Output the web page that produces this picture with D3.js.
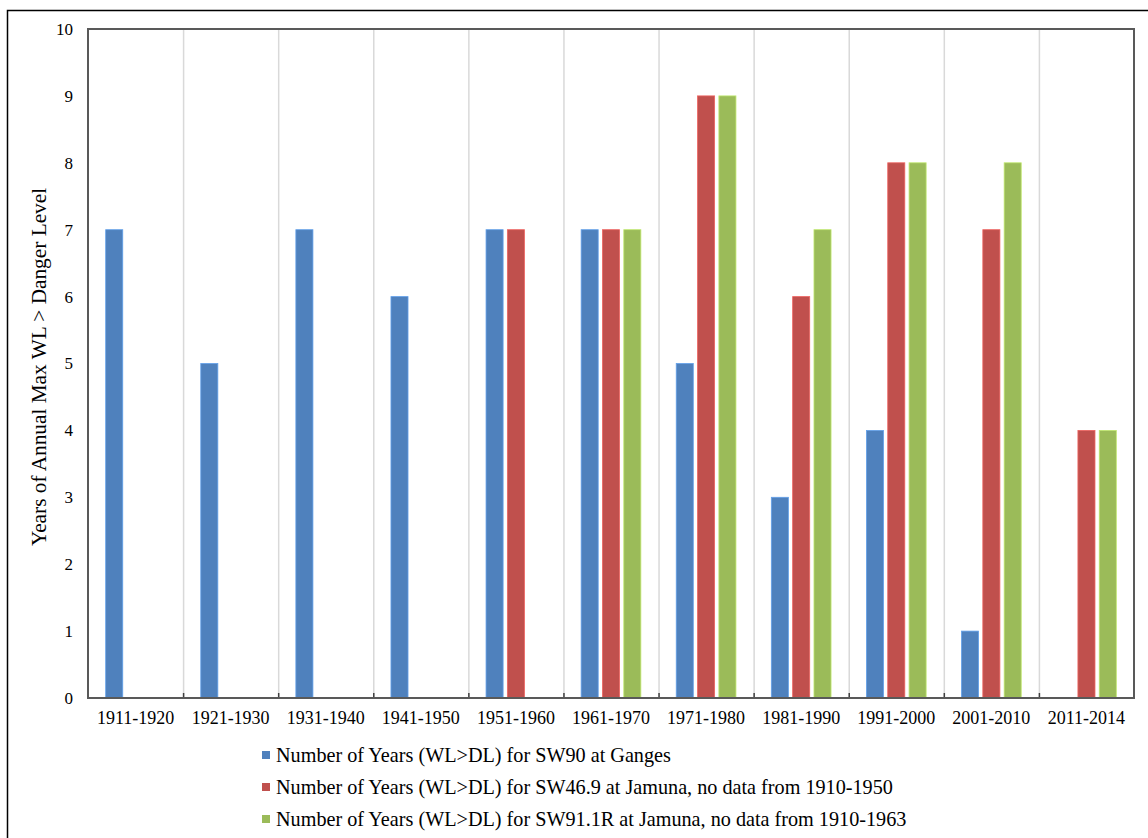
<!DOCTYPE html>
<html><head><meta charset="utf-8">
<script src="https://cdn.jsdelivr.net/npm/d3@7"></script>
<style>body{margin:0;background:#fff}svg{display:block}</style>
</head><body>
<script>
const categories = ["1911-1920","1921-1930","1931-1940","1941-1950","1951-1960","1961-1970","1971-1980","1981-1990","1991-2000","2001-2010","2011-2014"];
const seriesNames = [
  "Number of Years (WL>DL) for SW90 at Ganges",
  "Number of Years (WL>DL) for SW46.9 at Jamuna, no data from 1910-1950",
  "Number of Years (WL>DL) for SW91.1R at Jamuna, no data from 1910-1963"
];
const sw90 = [7,5,7,6,7,7,5,3,4,1,null];
const sw469 = [null,null,null,null,7,7,9,6,8,7,4];
const sw911r = [null,null,null,null,null,7,9,7,8,8,4];
const yTicks = [0,1,2,3,4,5,6,7,8,9,10];
const colors = ["#4F81BD","#C0504D","#9BBB59"];
const seriesValues = [sw90, sw469, sw911r];

const W = 1148, H = 838;
const svg = d3.select("body").append("svg").attr("width", W).attr("height", H);
const font = "'Liberation Serif','Times New Roman',serif";

// outer frame
svg.append("rect").attr("x",7.5).attr("y",10.5).attr("width",1200).attr("height",900)
  .attr("fill","none").attr("stroke","#000").attr("stroke-width",1.5);

const L = 88, R = 1134, T = 29, B = 698;
const x = d3.scaleBand().domain(categories).range([L, R]).paddingInner(0).paddingOuter(0);
const bw = x.bandwidth();
const xs = d3.scaleBand().domain(d3.range(3)).range([bw*0.186, bw - bw*0.186]).paddingInner(0.2).paddingOuter(0);
const y = d3.scaleLinear().domain([0,10]).range([B, T]);

// vertical gridlines
const bounds = categories.slice(1).map(c => x(c));
svg.append("g").selectAll("line").data(bounds).join("line")
  .attr("x1", d=>d+0.5).attr("x2", d=>d+0.5).attr("y1", T).attr("y2", B)
  .attr("stroke","#d9d9d9").attr("stroke-width",1.5);

// bars
seriesValues.forEach((vals, si) => {
  svg.append("g").selectAll("rect").data(vals.map((v,i)=>({v, c:categories[i]})).filter(d=>d.v!=null))
    .join("rect")
    .attr("x", d => x(d.c) + xs(si))
    .attr("y", d => y(d.v))
    .attr("width", xs.bandwidth())
    .attr("height", d => B - y(d.v))
    .attr("fill", colors[si])
    .attr("stroke", d3.color(colors[si]).brighter(0.6))
    .attr("stroke-width", 0.8);
});

// bottom ticks
svg.append("g").selectAll("line").data(bounds).join("line")
  .attr("x1", d=>d+0.5).attr("x2", d=>d+0.5).attr("y1", B-5).attr("y2", B)
  .attr("stroke","#404040").attr("stroke-width",1.5);

// plot frame
svg.append("rect").attr("x",L).attr("y",T).attr("width",R-L).attr("height",B-T)
  .attr("fill","none").attr("stroke","#595959").attr("stroke-width",2);

// y labels
svg.append("g").selectAll("text").data(yTicks).join("text")
  .attr("x", 73).attr("y", d=>y(d)).attr("dy","0.35em")
  .attr("text-anchor","end").attr("font-family",font).attr("font-size",17).attr("fill","#000")
  .text(d=>d);

// x labels
svg.append("g").selectAll("text").data(categories).join("text")
  .attr("x", d=>x(d)+bw/2).attr("y", 724)
  .attr("text-anchor","middle").attr("font-family",font).attr("font-size",18).attr("fill","#000")
  .text(d=>d);

// y title
svg.append("text").attr("transform","translate(46,367) rotate(-90)")
  .attr("text-anchor","middle").attr("font-family",font).attr("font-size",21.3).attr("fill","#000")
  .text("Years of Annual Max WL > Danger Level");

// legend
const lg = svg.append("g");
seriesNames.forEach((n,i)=>{
  const cy = 755 + i*32;
  lg.append("rect").attr("x",262).attr("y",cy-4).attr("width",8).attr("height",8).attr("fill",colors[i]);
  lg.append("text").attr("x",276).attr("y",cy).attr("dy","0.35em")
    .attr("font-family",font).attr("font-size",20.2).attr("fill","#000").text(n);
});
</script>
</body></html>
